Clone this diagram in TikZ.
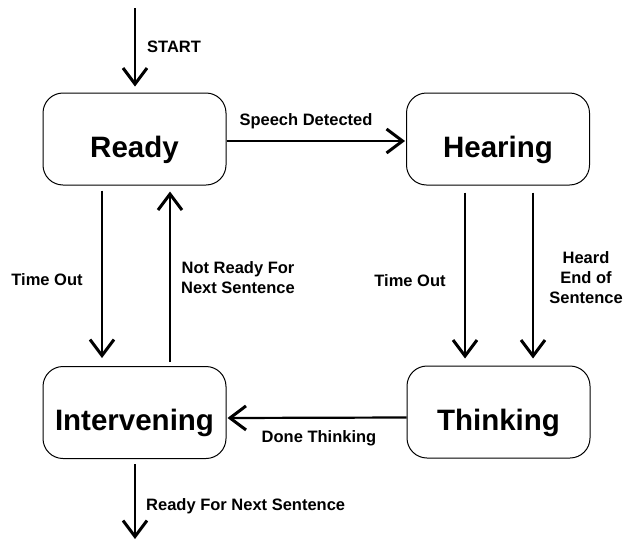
\documentclass[tikz,border=0pt]{standalone}
\usepackage{fontspec}
\setmainfont{Liberation Sans}
\usetikzlibrary{arrows.meta}
\begin{document}
\begin{tikzpicture}[x=1pt,y=-1pt,
  state/.style={draw,line width=1pt,rounded corners=20pt,minimum width=183pt,minimum height=92pt,inner sep=0pt,
    font=\fontsize{29.5}{30}\selectfont\bfseries,text height=40pt,text depth=4pt},
  conn/.style={line width=2.2pt,-{Straight Barb[length=16pt,width=24pt,line width=3pt]}},
  lbl/.style={font=\fontsize{16.5}{20}\selectfont\bfseries,inner sep=0pt,align=center}]
\useasboundingbox (0,0) rectangle (624,541);
\node[state] (ready) at (134.5,139) {Ready};
\node[state] (hearing) at (498,139) {Hearing};
\node[state] (interv) at (134.5,412.5) {Intervening};
\node[state] (think) at (498.5,412) {Thinking};
\coordinate (s0) at (135,8);
\coordinate (e0) at (135,539);
% connectors
\draw[conn,shorten >=6pt] (s0) -- ([xshift=0.5pt]ready.north);
\draw[conn,shorten >=1pt] ([yshift=-2pt]ready.east) -- ([yshift=-2pt]hearing.west);
\draw[conn,shorten <=5pt,shorten >=8pt] ([xshift=-32.5pt]ready.south) -- ([xshift=-32.5pt]interv.north);
\draw[conn,shorten <=4pt,shorten >=6pt] ([xshift=35.5pt]interv.north) -- ([xshift=35.5pt]ready.south);
\draw[conn,shorten <=7pt,shorten >=7pt] ([xshift=-33pt]hearing.south) -- ([xshift=-33.5pt]think.north);
\draw[conn,shorten <=7pt,shorten >=7pt] ([xshift=35pt]hearing.south) -- ([xshift=34.5pt]think.north);
\draw[conn,shorten >=1pt] ([yshift=-5.5pt]think.west) -- ([yshift=-5.5pt]interv.east);
\draw[conn,shorten <=5pt] ([xshift=0.5pt]interv.south) -- (e0);
% labels
\node[lbl,anchor=west] (lstart) at (147,47) {START};
\node[lbl] (lspeech) at (306,121) {Speech Detected};
\node[lbl] (ltime1) at (47,280) {Time Out};
\node[lbl] (lnotready) at (238,278) {Not Ready For\\Next Sentence};
\node[lbl] (ltime2) at (410,281) {Time Out};
\node[lbl] (lheard) at (586,278) {Heard\\End of\\Sentence};
\node[lbl] (ldone) at (319,438) {Done Thinking};
\node[lbl,anchor=west] (lreadynext) at (146,506) {Ready For Next Sentence};
\end{tikzpicture}
\end{document}
